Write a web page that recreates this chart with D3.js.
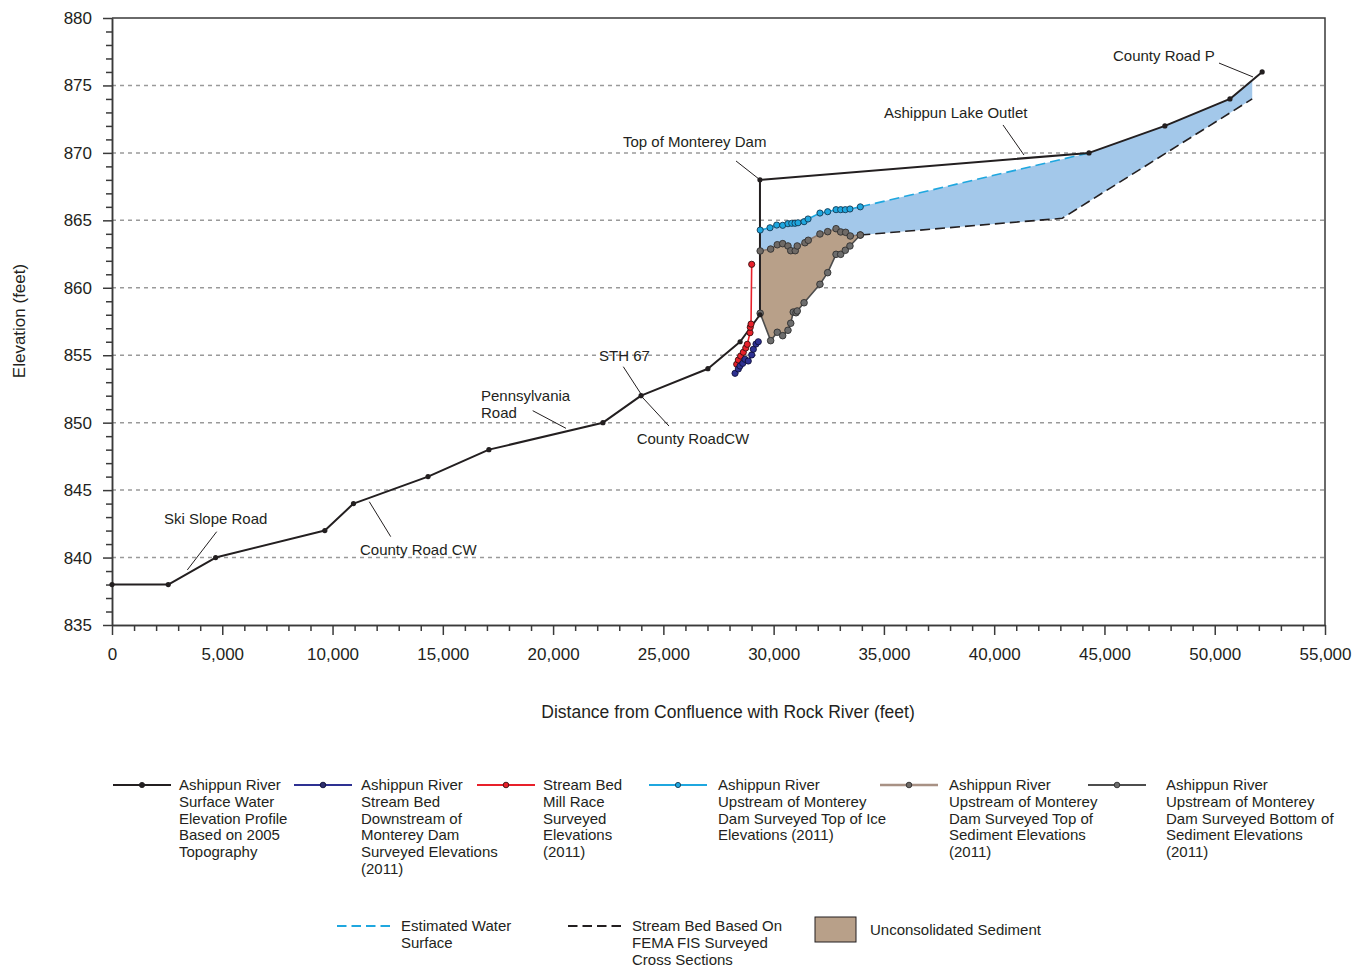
<!DOCTYPE html>
<html>
<head>
<meta charset="utf-8">
<script src="https://cdn.jsdelivr.net/npm/d3@7"></script>
<style>
  body { margin: 0; background: #fff; }
  svg { display: block; font-family: "Liberation Sans", Arial, Helvetica, sans-serif; }
</style>
</head>
<body>
<svg id="chart" width="1356" height="969"></svg>
<script>
// ---- Data: [distance from confluence (ft), elevation (ft)] ----
const surfaceProfile = [[0,838],[2550,838],[4700,840],[9650,842],[10950,844],[14330,846],[17090,848],
  [22260,850],[23990,852],[27020,854],[28480,856],[29380,858],[29380,868],[44300,870],[47740,872],
  [50690,874],[52150,876]];
const bedDownstream = [[28250,853.66],[28400,853.98],[28475,854.2],[28600,854.4],[28700,854.7],
  [28850,854.57],[29005,855.02],[29080,855.44],[29200,855.83],[29305,856.0]];
const millRace = [[28325,854.33],[28400,854.65],[28505,854.94],[28625,855.22],[28735,855.54],
  [28805,855.81],[28930,856.67],[28940,857.07],[28975,857.31],[29005,861.74]];
const iceTop = [[29390,864.28],[29835,864.45],[30140,864.65],[30410,864.63],[30650,864.75],
  [30820,864.78],[30970,864.78],[31105,864.82],[31380,864.9],[31560,865.1],[32100,865.54],
  [32450,865.64],[32830,865.79],[33040,865.79],[33250,865.79],[33460,865.84],[33930,866.0]];
const sedimentTop = [[29390,862.73],[29865,862.87],[30165,863.19],[30410,863.27],[30650,863.1],
  [30775,862.75],[30980,862.75],[31070,863.1],[31420,863.34],[31570,863.52],[32100,863.99],
  [32450,864.16],[32830,864.38],[33040,864.14],[33265,864.11],[33475,863.84],[33930,863.91]];
const sedimentBottom = [[29390,858.11],[29865,856.08],[30165,856.7],[30410,856.45],[30650,856.85],
  [30775,857.37],[30890,858.2],[31015,858.15],[31070,858.28],[31380,858.89],[32100,860.26],
  [32450,861.12],[32830,862.48],[33040,862.48],[33250,862.78],[33460,863.1],[33930,863.91]];
const estWaterSurface = [[33930,866.0],[44300,870]];
const femaStreamBed = [[33930,863.91],[43080,865.15],[51700,874.0]];

const xTickValues = [0,5000,10000,15000,20000,25000,30000,35000,40000,45000,50000,55000];
const yTickValues = [835,840,845,850,855,860,865,870,875,880];
const gridValues = [840,845,850,855,860,865,870,875];

// Site labels: text lines, anchor [dist, elev], leader from/to [dist, elev]
const siteLabels = [
  { lines: ["County Road P"], at: [45387,876.81], leader: [[50194,876.66],[51735,875.63]] },
  { lines: ["Ashippun Lake Outlet"], at: [35004,872.59], leader: [[40400,872.07],[41352,869.84]] },
  { lines: ["Top of Monterey Dam"], at: [23170,870.44], leader: [[28294,869.4],[29336,868.06]] },
  { lines: ["STH 67"], at: [22081,854.57], leader: [[23183,854.15],[24017,852.05]] },
  { lines: ["County RoadCW"], at: [23790,848.42], leader: [[24076,851.83],[25255,849.75]] },
  { lines: ["Pennsylvania","Road"], at: [16731,851.6], leader: [[19075,850.89],[20585,849.58]] },
  { lines: ["Ski Slope Road"], at: [2358,842.49], leader: [[4747,841.92],[3414,839.08]] },
  { lines: ["County Road CW"], at: [11245,840.19], leader: [[11667,844.14],[12637,841.55]] }
];

const legendLabels = [
  ["Ashippun River","Surface Water","Elevation Profile","Based on 2005","Topography"],
  ["Ashippun River","Stream Bed","Downstream of","Monterey Dam","Surveyed Elevations","(2011)"],
  ["Stream Bed","Mill Race","Surveyed","Elevations","(2011)"],
  ["Ashippun River","Upstream of Monterey","Dam Surveyed Top of Ice","Elevations (2011)"],
  ["Ashippun River","Upstream of Monterey","Dam Surveyed Top of","Sediment Elevations","(2011)"],
  ["Ashippun River","Upstream of Monterey","Dam Surveyed Bottom of","Sediment Elevations","(2011)"]
];
const legendLabels2 = [
  ["Estimated Water","Surface"],
  ["Stream Bed Based On","FEMA FIS Surveyed","Cross Sections"],
  ["Unconsolidated Sediment"]
];

// ---- Styles ----
const TEXT = "#231f20";
const C = {
  profile: "#231f20", navy: "#2e3192", red: "#e8202a", cyan: "#1fa7df",
  sedLine: "#8f7c70", bedLine: "#4d4d4d", water: "#a3c8ea", sediment: "#b8a089",
  grid: "#9a9a9a", axis: "#3a3a3a"
};

const svg = d3.select("#chart");
const x = d3.scaleLinear().domain([0,55000]).range([112,1325]);
const y = d3.scaleLinear().domain([835,880]).range([625,18]);
const line = d3.line().x(d => x(d[0])).y(d => y(d[1]));

// gridlines
svg.append("g").selectAll("line").data(gridValues).join("line")
  .attr("x1", x(0)).attr("x2", x(55000))
  .attr("y1", d => y(d)).attr("y2", d => y(d))
  .attr("stroke", C.grid).attr("stroke-width", 1.5).attr("stroke-dasharray", "4,4");

// water body fill: ice / estimated surface / profile on top, sediment / FEMA bed below
const endX = femaStreamBed[femaStreamBed.length - 1][0];
function profileAt(d) {
  for (let i = 1; i < surfaceProfile.length; i++) {
    const a = surfaceProfile[i-1], b = surfaceProfile[i];
    if (d >= a[0] && d <= b[0] && b[0] > a[0]) return a[1] + (b[1]-a[1]) * (d - a[0]) / (b[0]-a[0]);
  }
  return null;
}
const waterTop = iceTop.concat([estWaterSurface[1]])
  .concat(surfaceProfile.filter(p => p[0] > estWaterSurface[1][0] && p[0] < endX))
  .concat([[endX, profileAt(endX)]]);
const waterBottom = sedimentTop.concat(femaStreamBed.slice(1)).slice().reverse();
svg.append("path").attr("d", line(waterTop.concat(waterBottom)) + "Z")
  .attr("fill", C.water).attr("stroke", "none");

// sediment fill
svg.append("path").attr("d", line(sedimentTop.concat(sedimentBottom.slice().reverse())) + "Z")
  .attr("fill", C.sediment).attr("stroke", "none");

// dashed lines
svg.append("path").attr("d", line(femaStreamBed)).attr("fill", "none")
  .attr("stroke", C.profile).attr("stroke-width", 1.6).attr("stroke-dasharray", "10,5");
svg.append("path").attr("d", line(estWaterSurface)).attr("fill", "none")
  .attr("stroke", C.cyan).attr("stroke-width", 1.6).attr("stroke-dasharray", "10,5");

// axes
function styleAxis(g) {
  g.selectAll("path.domain").attr("stroke", C.axis).attr("stroke-width", 1.5);
  g.selectAll(".tick line").attr("stroke", C.axis).attr("stroke-width", 1.5);
  g.selectAll(".tick text").attr("fill", TEXT).attr("font-size", 17)
    .attr("font-family", "'Liberation Sans', Arial, sans-serif");
}
const xMinor = d3.range(0, 55001, 1000).filter(v => v % 5000 !== 0);
const yMinor = d3.range(835, 881, 1).filter(v => v % 5 !== 0);
svg.append("g").attr("transform", `translate(0,${y(835)})`)
  .call(d3.axisBottom(x).tickValues(xMinor).tickSize(6).tickSizeOuter(0).tickFormat(""))
  .call(styleAxis);
svg.append("g").attr("transform", `translate(0,${y(835)})`)
  .call(d3.axisBottom(x).tickValues(xTickValues).tickSize(10).tickSizeOuter(0).tickPadding(13)
    .tickFormat(d3.format(",")))
  .call(styleAxis);
svg.append("g").attr("transform", `translate(${x(0)},0)`)
  .call(d3.axisLeft(y).tickValues(yMinor).tickSize(6).tickSizeOuter(0).tickFormat(""))
  .call(styleAxis);
svg.append("g").attr("transform", `translate(${x(0)},0)`)
  .call(d3.axisLeft(y).tickValues(yTickValues).tickSize(9).tickSizeOuter(0).tickPadding(11))
  .call(styleAxis);
// frame top and right
svg.append("path")
  .attr("d", `M${x(0)},${y(880)}H${x(55000)}V${y(835)}`)
  .attr("fill", "none").attr("stroke", C.axis).attr("stroke-width", 1.5);

// axis titles
svg.append("text").attr("x", 728).attr("y", 718).attr("text-anchor", "middle")
  .attr("font-size", 17.5).attr("fill", TEXT)
  .text("Distance from Confluence with Rock River (feet)");
svg.append("text").attr("transform", "translate(25,321) rotate(-90)").attr("text-anchor", "middle")
  .attr("font-size", 17).attr("fill", TEXT).text("Elevation (feet)");

// series lines
function series(data, color, width) {
  svg.append("path").attr("d", line(data)).attr("fill", "none")
    .attr("stroke", color).attr("stroke-width", width).attr("stroke-linejoin", "round");
}
function dots(data, fill, stroke, r, sw) {
  svg.append("g").selectAll("circle").data(data).join("circle")
    .attr("cx", d => x(d[0])).attr("cy", d => y(d[1])).attr("r", r)
    .attr("fill", fill).attr("stroke", stroke).attr("stroke-width", sw);
}
series(sedimentBottom, C.bedLine, 1.6);
series(sedimentTop, C.sedLine, 1.6);
series(surfaceProfile, C.profile, 2);
series(iceTop, C.cyan, 1.6);
series(millRace, C.red, 1.6);
series(bedDownstream, C.navy, 1.6);
dots(sedimentBottom, "#6d6d6d", "#2f2f2f", 3.3, 0.9);
dots(sedimentTop, "#6f6a66", "#2f2f2f", 3.3, 0.9);
dots(surfaceProfile, C.profile, C.profile, 2.6, 0);
dots(iceTop, C.cyan, "#123a55", 3.1, 0.9);
dots(millRace, C.red, "#3a1010", 3.1, 0.9);
dots(bedDownstream, C.navy, "#10103a", 3.1, 0.9);

// site labels
const lab = svg.append("g").attr("font-size", 15).attr("fill", TEXT);
siteLabels.forEach(s => {
  lab.append("line")
    .attr("x1", x(s.leader[0][0])).attr("y1", y(s.leader[0][1]))
    .attr("x2", x(s.leader[1][0])).attr("y2", y(s.leader[1][1]))
    .attr("stroke", TEXT).attr("stroke-width", 1);
  const t = lab.append("text").attr("x", x(s.at[0])).attr("y", y(s.at[1]));
  s.lines.forEach((ln, i) => t.append("tspan").attr("x", x(s.at[0])).attr("dy", i ? 16.5 : 0).text(ln));
});

// legend, first row
const leg1 = [
  { lx: 113, tx: 179, color: C.profile, dot: C.profile, dotStroke: C.profile, r: 2.6 },
  { lx: 294, tx: 361, color: C.navy, dot: "#2e2f6e", dotStroke: "#10103a", r: 2.8 },
  { lx: 477, tx: 543, color: C.red, dot: C.red, dotStroke: "#3a1010", r: 2.8 },
  { lx: 649, tx: 718, color: C.cyan, dot: C.cyan, dotStroke: "#123a55", r: 2.6 },
  { lx: 880, tx: 949, color: "#a89184", dot: "#6f6a66", dotStroke: "#2f2f2f", r: 2.8 },
  { lx: 1088, tx: 1166, color: C.bedLine, dot: "#6d6d6d", dotStroke: "#2f2f2f", r: 2.8 }
];
const lg = svg.append("g").attr("font-size", 15).attr("fill", TEXT);
leg1.forEach((L, i) => {
  lg.append("line").attr("x1", L.lx).attr("x2", L.lx + 58).attr("y1", 785).attr("y2", 785)
    .attr("stroke", L.color).attr("stroke-width", i === 4 ? 2.6 : 2);
  lg.append("circle").attr("cx", L.lx + 29).attr("cy", 785).attr("r", L.r)
    .attr("fill", L.dot).attr("stroke", L.dotStroke).attr("stroke-width", 0.9);
  const t = lg.append("text").attr("x", L.tx).attr("y", 790);
  legendLabels[i].forEach((ln, j) => t.append("tspan").attr("x", L.tx).attr("dy", j ? 16.8 : 0).text(ln));
});

// legend, second row
const leg2 = [
  { lx: 337, tx: 401, kind: "dash", color: C.cyan },
  { lx: 568, tx: 632, kind: "dash", color: C.profile },
  { lx: 815, tx: 870, kind: "box", color: C.sediment }
];
leg2.forEach((L, i) => {
  if (L.kind === "dash") {
    lg.append("line").attr("x1", L.lx).attr("x2", L.lx + 53).attr("y1", 926).attr("y2", 926)
      .attr("stroke", L.color).attr("stroke-width", 2).attr("stroke-dasharray", "9.5,5");
  } else {
    lg.append("rect").attr("x", L.lx).attr("y", 917).attr("width", 41).attr("height", 25)
      .attr("fill", L.color).attr("stroke", "#231f20").attr("stroke-width", 1);
  }
  const t = lg.append("text").attr("x", L.tx).attr("y", L.kind === "box" ? 935 : 931);
  legendLabels2[i].forEach((ln, j) => t.append("tspan").attr("x", L.tx).attr("dy", j ? 16.8 : 0).text(ln));
});
</script>
</body>
</html>
